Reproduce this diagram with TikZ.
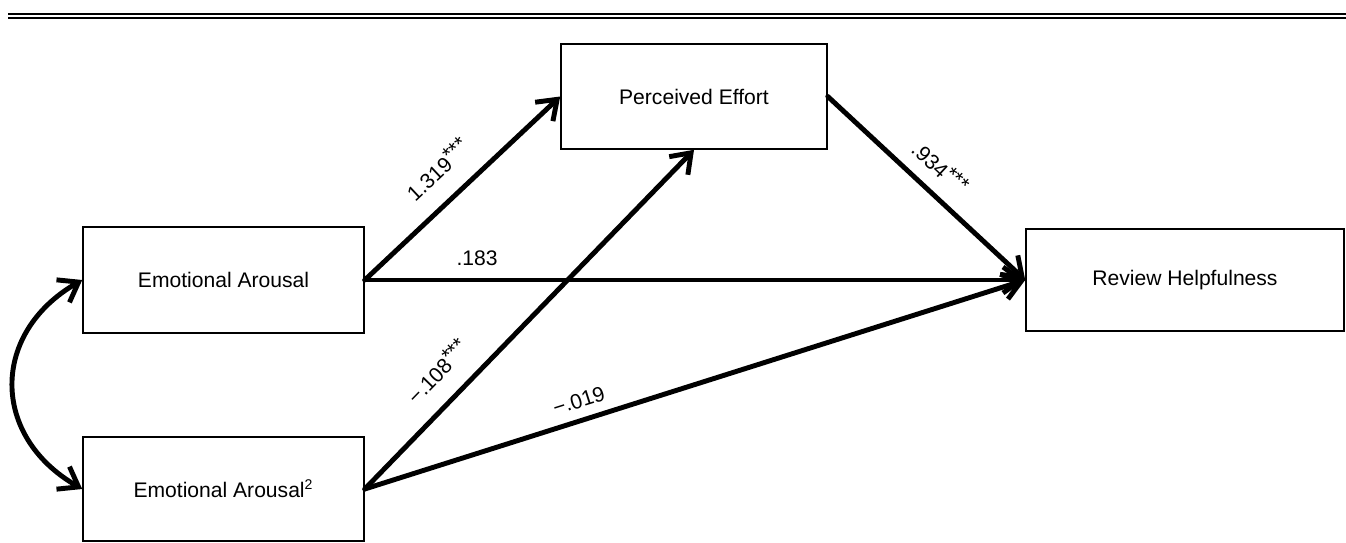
\documentclass[tikz,border=0pt]{standalone}
\usepackage{fontspec}
\setmainfont{Liberation Sans}
\usetikzlibrary{arrows.meta}
\newcommand{\sig}{\raisebox{0.45ex}{***}}
\tikzset{
  var/.style={draw,line width=0.9pt,inner sep=0pt,font=\fontsize{12}{14}\selectfont},
  pth/.style={line width=2.8pt,line cap=round,line join=round,->},
  coef/.style={sloped,inner sep=1pt,font=\fontsize{12}{14}\selectfont}
}
\begin{document}
\begin{tikzpicture}[>={Straight Barb[length=3.6mm,width=5.2mm]}]
        \useasboundingbox (0,0) rectangle (26.92,10.84);
        \draw[line width=1.2pt] (0.16,10.56)--(26.92,10.56) (0.16,10.48)--(26.92,10.48);
        \foreach \nm/\x/\y/\w/\h/\txt in {ea/4.47/5.24/5.62/2.12/{Emotional Arousal},ea2/4.47/1.06/5.62/2.08/{Emotional Arousal\textsuperscript{2}},pe/13.88/8.91/5.32/2.10/{Perceived Effort},rh/23.70/5.24/6.36/2.04/{Review Helpfulness}}
            \node[var,minimum width=\w cm,minimum height=\h cm] (\nm) at (\x,\y) {\txt};
        \draw[pth] (ea.east)--node[coef,pos=.48,above=3.5mm]{1.319\sig} (pe.west);
        \draw[pth] (ea.east)--node[coef,pos=.17,above=2.1mm]{.183} (rh.west);
        \draw[pth] (pe.east)--node[coef,pos=.485,above=2.2mm]{.934\sig} (rh.west);
        \draw[pth] (ea2.east)--node[coef,pos=.285,above=3.3mm]{−.108\sig} (pe.south);
        \draw[pth] (ea2.east)--node[coef,pos=.333,above=1.6mm]{−.019} (rh.west);
        \draw[pth,<->] (ea.west) to[out=210,in=150,looseness=1.3] (ea2.west);
\end{tikzpicture}
\end{document}
